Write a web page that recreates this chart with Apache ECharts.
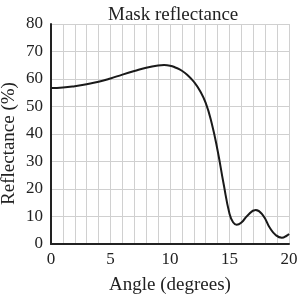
<!DOCTYPE html>
<html>
<head>
<meta charset="utf-8">
<script src="https://cdn.jsdelivr.net/npm/echarts@6/dist/echarts.min.js"></script>
<style>html,body{margin:0;padding:0;background:#fff}#c{width:298px;height:295px}</style>
</head>
<body>
<div id="c"></div>
<script>
var angles = [0,1,2,3,4,5,6,7,8,9,9.5,10,10.5,11,11.5,12,12.5,13,13.5,14,14.5,15,15.3,15.6,16,16.5,17.2,17.8,18.4,18.9,19.4,19.8,20];
var reflectance = [56.7,56.9,57.4,58.1,59.0,60.2,61.6,62.9,64.1,64.9,65.05,64.85,64.1,63.0,61.3,59.0,55.8,51.3,44,34,22,11,7.9,7,7.8,10.3,12.4,10.5,5.8,3.2,2.3,3,3.7];
var xTicks = [0,5,10,15,20];
var yTicks = [0,10,20,30,40,50,60,70,80];

var font = 'Liberation Serif';
var chart = echarts.init(document.getElementById('c'));
chart.setOption({
  animation: false,
  title: {text: 'Mask reflectance', left: 103, top: 1,
    textStyle: {fontFamily: font, fontWeight: 'normal', fontSize: 19, color: '#222'}},
  grid: {left: 51, right: 9, top: 24, bottom: 51, containLabel: false, outerBoundsMode: 'none'},
  xAxis: {
    type: 'value', min: 0, max: 20, interval: 1,
    name: 'Angle (degrees)', nameLocation: 'middle', nameGap: 32, nameMoveOverlap: false,
    nameTextStyle: {fontFamily: font, fontSize: 19, color: '#222'},
    axisLine: {show: true, lineStyle: {color: '#222', width: 2}},
    axisTick: {show: false},
    axisLabel: {fontFamily: font, fontSize: 17, color: '#222', margin: 7,
      formatter: function(v){ return xTicks.indexOf(v) >= 0 ? String(v) : ''; }},
    splitLine: {show: true, lineStyle: {color: '#d0d0d0', width: 1}}
  },
  yAxis: {
    type: 'value', min: 0, max: 80, interval: 10,
    name: 'Reflectance (%)', nameLocation: 'middle', nameGap: 32, nameMoveOverlap: false,
    nameTextStyle: {fontFamily: font, fontSize: 19, color: '#222', padding: [0, 19, 0, 0]},
    axisLine: {show: true, lineStyle: {color: '#222', width: 2}},
    axisTick: {show: false},
    axisLabel: {fontFamily: font, fontSize: 17, color: '#222', margin: 8,
      formatter: function(v){ return yTicks.indexOf(v) >= 0 ? String(v) : ''; }},
    splitLine: {show: true, lineStyle: {color: '#d0d0d0', width: 1}}
  },
  series: [{
    type: 'line', smooth: 0.5, showSymbol: false,
    data: angles.map(function(a, i){ return [a, reflectance[i]]; }),
    lineStyle: {color: '#1a1a1a', width: 2}
  }]
});
</script>
</body>
</html>
